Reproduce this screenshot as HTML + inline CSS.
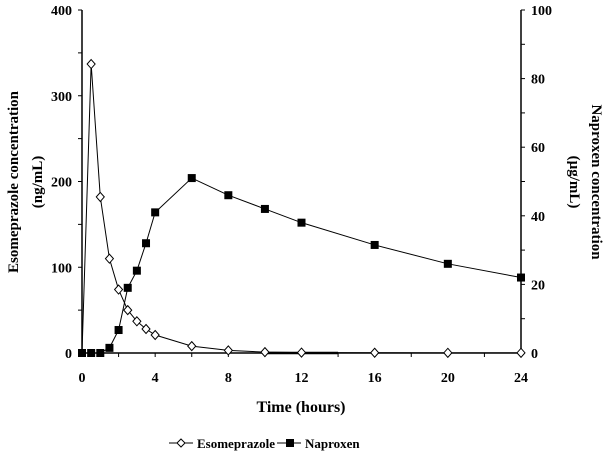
<!DOCTYPE html>
<html><head><meta charset="utf-8"><style>
body{margin:0;background:#fff}
svg text{font-family:"Liberation Serif",serif;font-weight:bold;fill:#000}
</style></head><body>
<svg id="chart" width="607" height="454" xmlns="http://www.w3.org/2000/svg"></svg>
<script>
const times=[0,0.5,1,1.5,2,2.5,3,3.5,4,6,8,10,12,16,20,24];
const esoValues=[0,337,182,110,74,50,37,28,21,8,3,1,0.5,0.3,0.2,0.2];
const napValues=[0,0,0,1.5,6.7,19,24,32,41,51,46,42,38,31.5,26,22];
const xTicks=[0,4,8,12,16,20,24];
const leftTicks=[0,100,200,300,400];
const rightTicks=[0,20,40,60,80,100];
const svg=document.getElementById('chart');
const NS='http://www.w3.org/2000/svg';
const X0=82,X1=521,Y0=353,Y1=10;
const xs=t=>X0+t/24*(X1-X0);
const yl=v=>Y0-v/400*(Y0-Y1);
const yr=v=>Y0-v/100*(Y0-Y1);
function el(tag,attrs,txt){const e=document.createElementNS(NS,tag);for(const k in attrs)e.setAttribute(k,attrs[k]);if(txt!=null)e.textContent=txt;svg.appendChild(e);return e;}
let a=el('line',{x1:X0,y1:Y1,x2:X0,y2:Y0,stroke:'#000','stroke-width':1.5});

a=el('line',{x1:X1,y1:Y1,x2:X1,y2:Y0,stroke:'#000','stroke-width':1.5});

a=el('line',{x1:X0,y1:Y0,x2:X1,y2:Y0,stroke:'#000','stroke-width':1.5});

for(let t=0;t<=24;t+=2){el('line',{x1:xs(t),y1:Y0,x2:xs(t),y2:Y0+4,stroke:'#000'});}
xTicks.forEach(t=>{const e=el('text',{x:xs(t),y:382,'text-anchor':'middle','font-size':14},t);
});
for(let v=0;v<=400;v+=50){el('line',{x1:X0-4,y1:yl(v),x2:X0,y2:yl(v),stroke:'#000'});}
leftTicks.forEach(v=>{const e=el('text',{x:X0-10,y:yl(v)+5,'text-anchor':'end','font-size':14},v);
});
for(let v=0;v<=100;v+=10){el('line',{x1:X1,y1:yr(v),x2:X1+4,y2:yr(v),stroke:'#000'});}
rightTicks.forEach(v=>{const e=el('text',{x:X1+10,y:yr(v)+5,'text-anchor':'start','font-size':14},v);
});
el('line',{x1:xs(10),y1:Y0,x2:xs(14),y2:Y0,stroke:'#000','stroke-width':2.5});
let p=el('polyline',{points:times.map((t,i)=>xs(t)+','+yr(napValues[i])).join(' '),fill:'none',stroke:'#000','stroke-width':1});

times.forEach((t,i)=>{const r=el('rect',{x:xs(t)-4,y:yr(napValues[i])-4,width:8,height:8,fill:'#000'});
});
p=el('polyline',{points:times.map((t,i)=>xs(t)+','+yl(esoValues[i])).join(' '),fill:'none',stroke:'#000','stroke-width':1});

times.forEach((t,i)=>{if(i===0)return;const x=xs(t),y=yl(esoValues[i]);
const d=el('polygon',{points:`${x},${y-4.5} ${x+4},${y} ${x},${y+4.5} ${x-4},${y}`,fill:'#fff',stroke:'#000','stroke-width':1});
});
let t=el('text',{x:301,y:412,'text-anchor':'middle','font-size':16},'Time  (hours)');

t=el('text',{transform:'translate(18,182) rotate(-90)','text-anchor':'middle','font-size':15},'Esomeprazole concentration');

t=el('text',{transform:'translate(42,182) rotate(-90)','text-anchor':'middle','font-size':15},'(ng/mL)');

t=el('text',{transform:'translate(592,182) rotate(90)','text-anchor':'middle','font-size':15},'Naproxen concentration');

t=el('text',{transform:'translate(570,182) rotate(90)','text-anchor':'middle','font-size':15},'(µg/mL)');

const lg=document.createElementNS(NS,'g');svg.appendChild(lg);

el('line',{x1:169,y1:443,x2:193,y2:443,stroke:'#000'});
el('polygon',{points:'181,439 185,443 181,447 177,443',fill:'#fff',stroke:'#000'});
t=el('text',{x:197,y:448,'font-size':13},'Esomeprazole');

el('line',{x1:277,y1:443,x2:301,y2:443,stroke:'#000'});
el('rect',{x:286,y:439,width:8,height:8,fill:'#000'});
t=el('text',{x:305,y:448,'font-size':13},'Naproxen');

</script>
</body></html>
